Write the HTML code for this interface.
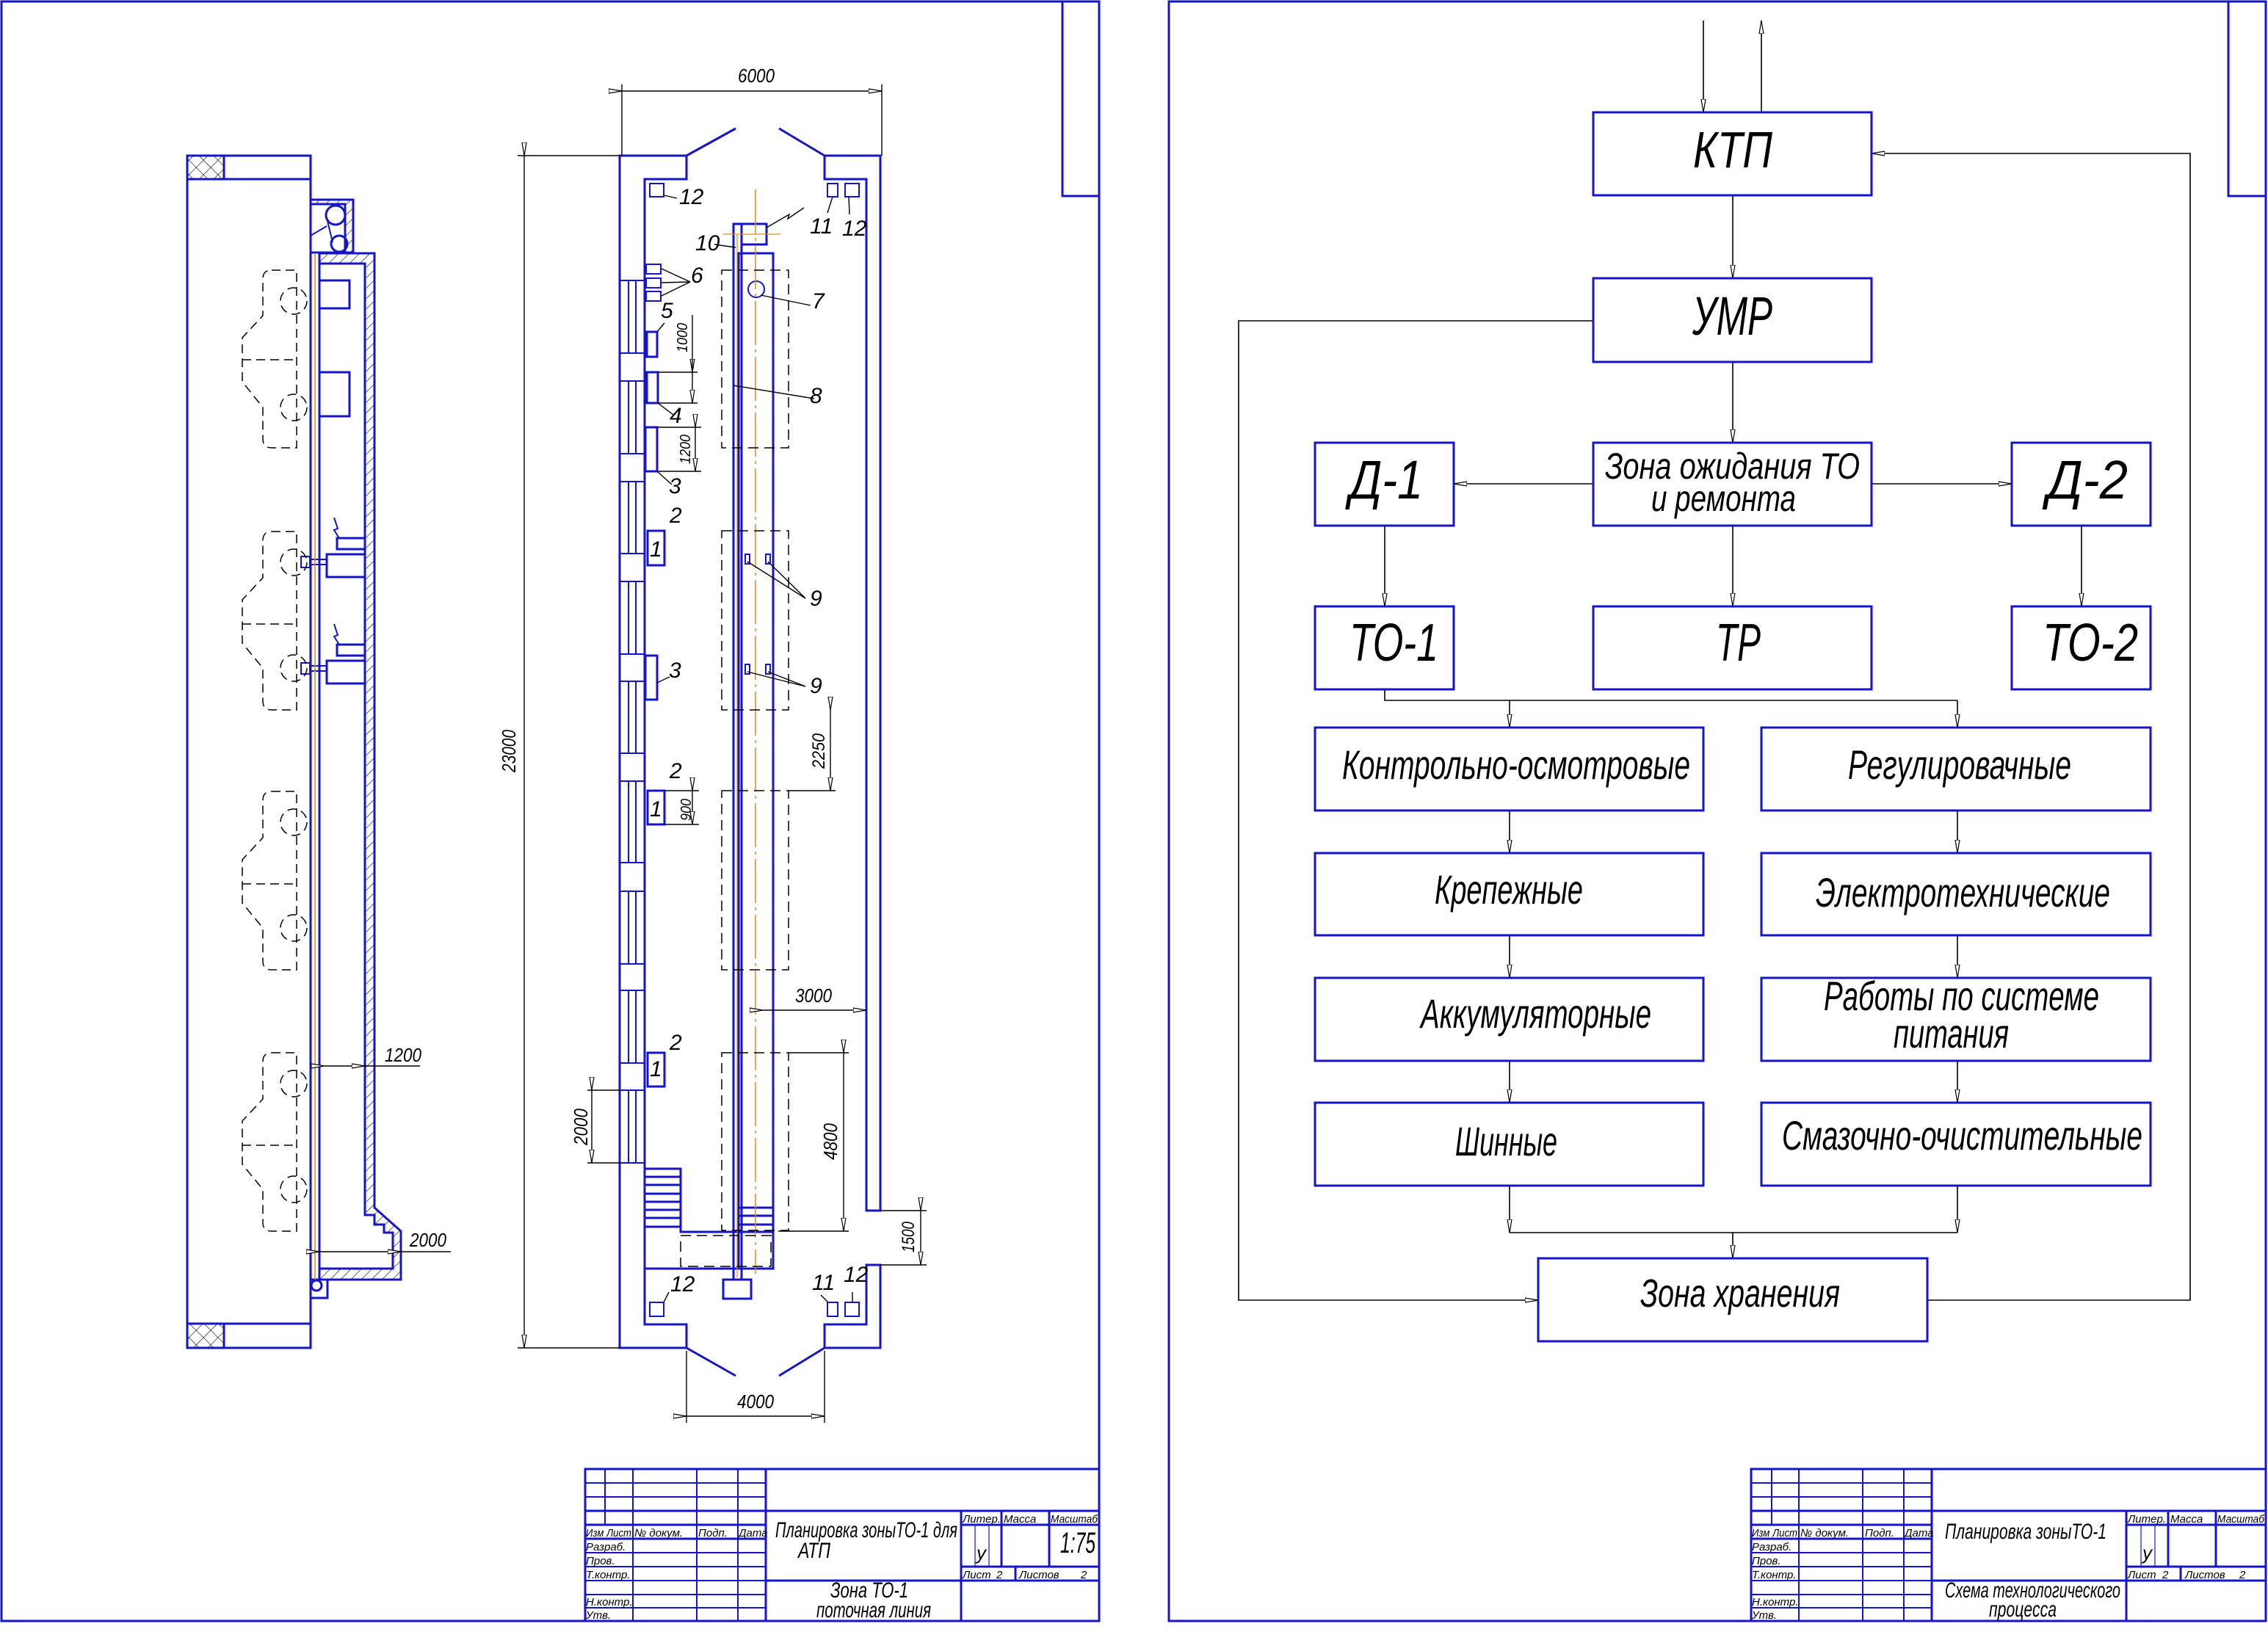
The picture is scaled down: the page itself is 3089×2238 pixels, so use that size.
<!DOCTYPE html>
<html><head><meta charset="utf-8"><style>
html,body{margin:0;padding:0;background:#fff}
svg{display:block}
text{font-family:"Liberation Sans","DejaVu Sans",sans-serif;font-style:italic;fill:#000}
</style></head><body>
<svg width="3089" height="2238" viewBox="0 0 3089 2238" xmlns="http://www.w3.org/2000/svg">
<defs>
<marker id="ar" markerWidth="20" markerHeight="10" refX="18" refY="4" orient="auto" markerUnits="userSpaceOnUse">
<path d="M0,1 L18,4 L0,7 Z" fill="#fff" stroke="#000" stroke-width="1.2"/>
</marker>
<pattern id="hat" width="10" height="10" patternUnits="userSpaceOnUse" patternTransform="rotate(45)">
<line x1="0" y1="0" x2="0" y2="10" stroke="#000" stroke-width="1.2"/>
</pattern>
<pattern id="xh" width="14" height="14" patternUnits="userSpaceOnUse" patternTransform="rotate(45)">
<line x1="0" y1="0" x2="0" y2="14" stroke="#000" stroke-width="1.2"/>
<line x1="0" y1="0" x2="14" y2="0" stroke="#000" stroke-width="1.2"/>
</pattern>
</defs>
<rect width="3089" height="2238" fill="#fff"/>

<g fill="none" stroke="#1414c8" stroke-width="3">
<rect x="2" y="2" width="1495" height="2206"/>
<polyline points="1447,2 1447,267 1497,267"/>
<rect x="1592" y="2" width="1494" height="2206"/>
<polyline points="3035,2 3035,267 3086,267"/>
</g>

<g fill="none" stroke="#000" stroke-width="1.6">
<line x1="2320" y1="28" x2="2320" y2="153" marker-end="url(#ar)"/>
<line x1="2399" y1="153" x2="2399" y2="28" marker-end="url(#ar)"/>
<line x1="2360" y1="266" x2="2360" y2="379" marker-end="url(#ar)"/>
<line x1="2360" y1="493" x2="2360" y2="603" marker-end="url(#ar)"/>
<line x1="2170" y1="659" x2="1980" y2="659" marker-end="url(#ar)"/>
<line x1="2549" y1="659" x2="2740" y2="659" marker-end="url(#ar)"/>
<line x1="1886" y1="716" x2="1886" y2="826" marker-end="url(#ar)"/>
<line x1="2360" y1="716" x2="2360" y2="826" marker-end="url(#ar)"/>
<line x1="2835" y1="716" x2="2835" y2="826" marker-end="url(#ar)"/>
<polyline points="1886,939 1886,954 2666,954"/>
<line x1="2056" y1="954" x2="2056" y2="991" marker-end="url(#ar)"/>
<line x1="2666" y1="954" x2="2666" y2="991" marker-end="url(#ar)"/>
<line x1="2056" y1="1104" x2="2056" y2="1162" marker-end="url(#ar)"/>
<line x1="2666" y1="1104" x2="2666" y2="1162" marker-end="url(#ar)"/>
<line x1="2056" y1="1274" x2="2056" y2="1332" marker-end="url(#ar)"/>
<line x1="2666" y1="1274" x2="2666" y2="1332" marker-end="url(#ar)"/>
<line x1="2056" y1="1445" x2="2056" y2="1502" marker-end="url(#ar)"/>
<line x1="2666" y1="1445" x2="2666" y2="1502" marker-end="url(#ar)"/>
<line x1="2056" y1="1615" x2="2056" y2="1679" marker-end="url(#ar)"/>
<line x1="2666" y1="1615" x2="2666" y2="1679" marker-end="url(#ar)"/>
<line x1="2056" y1="1679" x2="2666" y2="1679"/>
<line x1="2360" y1="1679" x2="2360" y2="1714" marker-end="url(#ar)"/>
<polyline points="2170,437 1687,437 1687,1771 2095,1771" marker-end="url(#ar)"/>
<polyline points="2625,1771 2983,1771 2983,209 2549,209" marker-end="url(#ar)"/>
</g>
<g fill="none" stroke="#1414c8" stroke-width="3">
<rect x="2170" y="153" width="379" height="113"/>
<rect x="2170" y="379" width="379" height="114"/>
<rect x="1791" y="603" width="189" height="113"/>
<rect x="2170" y="603" width="379" height="113"/>
<rect x="2740" y="603" width="189" height="113"/>
<rect x="1791" y="826" width="189" height="113"/>
<rect x="2170" y="826" width="379" height="113"/>
<rect x="2740" y="826" width="189" height="113"/>
<rect x="1791" y="991" width="529" height="113"/>
<rect x="2399" y="991" width="530" height="113"/>
<rect x="1791" y="1162" width="529" height="112"/>
<rect x="2399" y="1162" width="530" height="112"/>
<rect x="1791" y="1332" width="529" height="113"/>
<rect x="2399" y="1332" width="530" height="113"/>
<rect x="1791" y="1502" width="529" height="113"/>
<rect x="2399" y="1502" width="530" height="113"/>
<rect x="2095" y="1714" width="530" height="113"/>
</g>
<g>
<text x="2306" y="228" font-size="70" textLength="108" lengthAdjust="spacingAndGlyphs">КТП</text>
<text x="2305" y="456" font-size="74" textLength="109" lengthAdjust="spacingAndGlyphs">УМР</text>
<text x="1838" y="679" font-size="74" textLength="100" lengthAdjust="spacingAndGlyphs">Д-1</text>
<text x="2788" y="679" font-size="74" textLength="110" lengthAdjust="spacingAndGlyphs">Д-2</text>
<text x="2186" y="652" font-size="50" textLength="347" lengthAdjust="spacingAndGlyphs">Зона ожидания ТО</text>
<text x="2249" y="696" font-size="50" textLength="197" lengthAdjust="spacingAndGlyphs">и ремонта</text>
<text x="1838" y="900" font-size="72" textLength="121" lengthAdjust="spacingAndGlyphs">ТО-1</text>
<text x="2337" y="900" font-size="72" textLength="61" lengthAdjust="spacingAndGlyphs">ТР</text>
<text x="2782" y="900" font-size="72" textLength="130" lengthAdjust="spacingAndGlyphs">ТО-2</text>
<text x="1828" y="1061" font-size="56" textLength="474" lengthAdjust="spacingAndGlyphs">Контрольно-осмотровые</text>
<text x="2517" y="1061" font-size="56" textLength="304" lengthAdjust="spacingAndGlyphs">Регулировачные</text>
<text x="1954" y="1231" font-size="56" textLength="202" lengthAdjust="spacingAndGlyphs">Крепежные</text>
<text x="2473" y="1235" font-size="56" textLength="401" lengthAdjust="spacingAndGlyphs">Электротехнические</text>
<text x="1935" y="1400" font-size="56" textLength="314" lengthAdjust="spacingAndGlyphs">Аккумуляторные</text>
<text x="2484" y="1376" font-size="56" textLength="375" lengthAdjust="spacingAndGlyphs">Работы по системе</text>
<text x="2579" y="1427" font-size="56" textLength="157" lengthAdjust="spacingAndGlyphs">питания</text>
<text x="1982" y="1574" font-size="56" textLength="139" lengthAdjust="spacingAndGlyphs">Шинные</text>
<text x="2427" y="1566" font-size="56" textLength="491" lengthAdjust="spacingAndGlyphs">Смазочно-очистительные</text>
<text x="2234" y="1780" font-size="54" textLength="272" lengthAdjust="spacingAndGlyphs">Зона хранения</text>
</g>

<g fill="none" stroke="#1414c8" stroke-width="2">
<rect x="2385" y="2001" width="701" height="207" stroke-width="3"/>
<line x1="2413" y1="2001" x2="2413" y2="2077"/>
<line x1="2450" y1="2001" x2="2450" y2="2208"/>
<line x1="2537" y1="2001" x2="2537" y2="2208"/>
<line x1="2593" y1="2001" x2="2593" y2="2208"/>
<line x1="2631" y1="2001" x2="2631" y2="2208" stroke-width="3"/>
<line x1="2385" y1="2020" x2="2631" y2="2020"/>
<line x1="2385" y1="2039" x2="2631" y2="2039"/>
<line x1="2385" y1="2058" x2="3086" y2="2058" stroke-width="3"/>
<line x1="2385" y1="2077" x2="2631" y2="2077" stroke-width="3"/>
<line x1="2385" y1="2096" x2="2631" y2="2096" stroke-width="3"/>
<line x1="2385" y1="2115" x2="2631" y2="2115"/>
<line x1="2385" y1="2134" x2="2631" y2="2134"/>
<line x1="2385" y1="2153" x2="2631" y2="2153"/>
<line x1="2385" y1="2172" x2="2631" y2="2172"/>
<line x1="2385" y1="2190" x2="2631" y2="2190"/>
<line x1="2631" y1="2153" x2="3086" y2="2153" stroke-width="3"/>
<line x1="2896" y1="2058" x2="2896" y2="2208" stroke-width="3"/>
<line x1="2896" y1="2077" x2="3086" y2="2077" stroke-width="3"/>
<line x1="2896" y1="2134" x2="3086" y2="2134" stroke-width="3"/>
<line x1="2916" y1="2077" x2="2916" y2="2134" stroke-width="1.2"/>
<line x1="2935" y1="2077" x2="2935" y2="2134" stroke-width="1.2"/>
<line x1="2953" y1="2058" x2="2953" y2="2134" stroke-width="3"/>
<line x1="3018" y1="2058" x2="3018" y2="2134" stroke-width="3"/>
<line x1="2970" y1="2134" x2="2970" y2="2153" stroke-width="3"/>
</g>
<g font-size="15">
<text x="2386" y="2093" textLength="62" lengthAdjust="spacingAndGlyphs">Изм Лист</text>
<text x="2452" y="2093">№ докум.</text>
<text x="2540" y="2093">Подп.</text>
<text x="2594" y="2093">Дата</text>
<text x="2386" y="2112">Разраб.</text>
<text x="2386" y="2131">Пров.</text>
<text x="2386" y="2150">Т.контр.</text>
<text x="2386" y="2187">Н.контр.</text>
<text x="2386" y="2205">Утв.</text>
<text x="2898" y="2074">Литер.</text>
<text x="2956" y="2074">Масса</text>
<text x="3020" y="2074" textLength="64" lengthAdjust="spacingAndGlyphs">Масштаб</text>
<text x="2898" y="2150">Лист</text>
<text x="2945" y="2150">2</text>
<text x="2976" y="2150">Листов</text>
<text x="3050" y="2150">2</text>
<text x="2918" y="2124" font-size="26">у</text>
<text x="2649" y="2096" font-size="30" textLength="220" lengthAdjust="spacingAndGlyphs">Планировка зоныТО-1</text>
<text x="2649" y="2176" font-size="30" textLength="239" lengthAdjust="spacingAndGlyphs">Схема технологического</text>
<text x="2709" y="2202" font-size="30" textLength="92" lengthAdjust="spacingAndGlyphs">процесса</text>
</g>

<g fill="none" stroke="#1414c8" stroke-width="2">
<rect x="797" y="2001" width="700" height="207" stroke-width="3"/>
<line x1="824" y1="2001" x2="824" y2="2077"/>
<line x1="862" y1="2001" x2="862" y2="2208"/>
<line x1="949" y1="2001" x2="949" y2="2208"/>
<line x1="1005" y1="2001" x2="1005" y2="2208"/>
<line x1="1043" y1="2001" x2="1043" y2="2208" stroke-width="3"/>
<line x1="797" y1="2020" x2="1043" y2="2020"/>
<line x1="797" y1="2039" x2="1043" y2="2039"/>
<line x1="797" y1="2058" x2="1497" y2="2058" stroke-width="3"/>
<line x1="797" y1="2077" x2="1043" y2="2077" stroke-width="3"/>
<line x1="797" y1="2096" x2="1043" y2="2096" stroke-width="3"/>
<line x1="797" y1="2115" x2="1043" y2="2115"/>
<line x1="797" y1="2134" x2="1043" y2="2134"/>
<line x1="797" y1="2153" x2="1043" y2="2153"/>
<line x1="797" y1="2172" x2="1043" y2="2172"/>
<line x1="797" y1="2190" x2="1043" y2="2190"/>
<line x1="1043" y1="2153" x2="1497" y2="2153" stroke-width="3"/>
<line x1="1309" y1="2058" x2="1309" y2="2208" stroke-width="3"/>
<line x1="1309" y1="2077" x2="1497" y2="2077" stroke-width="3"/>
<line x1="1309" y1="2134" x2="1497" y2="2134" stroke-width="3"/>
<line x1="1328" y1="2077" x2="1328" y2="2134" stroke-width="1.2"/>
<line x1="1347" y1="2077" x2="1347" y2="2134" stroke-width="1.2"/>
<line x1="1364" y1="2058" x2="1364" y2="2134" stroke-width="3"/>
<line x1="1429" y1="2058" x2="1429" y2="2134" stroke-width="3"/>
<line x1="1383" y1="2134" x2="1383" y2="2153" stroke-width="3"/>
</g>
<g font-size="15">
<text x="798" y="2093" textLength="62" lengthAdjust="spacingAndGlyphs">Изм Лист</text>
<text x="864" y="2093">№ докум.</text>
<text x="951" y="2093">Подп.</text>
<text x="1006" y="2093">Дата</text>
<text x="798" y="2112">Разраб.</text>
<text x="798" y="2131">Пров.</text>
<text x="798" y="2150">Т.контр.</text>
<text x="798" y="2187">Н.контр.</text>
<text x="798" y="2205">Утв.</text>
<text x="1311" y="2074">Литер.</text>
<text x="1367" y="2074">Масса</text>
<text x="1431" y="2074" textLength="64" lengthAdjust="spacingAndGlyphs">Масштаб</text>
<text x="1311" y="2150">Лист</text>
<text x="1357" y="2150">2</text>
<text x="1388" y="2150">Листов</text>
<text x="1472" y="2150">2</text>
<text x="1330" y="2124" font-size="26">у</text>
<text x="1444" y="2115" font-size="40" textLength="48" lengthAdjust="spacingAndGlyphs">1:75</text>
<text x="1056" y="2094" font-size="30" textLength="248" lengthAdjust="spacingAndGlyphs">Планировка зоныТО-1 для</text>
<text x="1087" y="2122" font-size="30" textLength="44" lengthAdjust="spacingAndGlyphs">АТП</text>
<text x="1131" y="2176" font-size="30" textLength="106" lengthAdjust="spacingAndGlyphs">Зона ТО-1</text>
<text x="1112" y="2203" font-size="30" textLength="156" lengthAdjust="spacingAndGlyphs">поточная линия</text>
</g>

<g fill="none" stroke="#1414c8" stroke-width="3">
<rect x="255" y="212" width="168" height="1624"/>
<line x1="255" y1="244" x2="423" y2="244"/>
<line x1="255" y1="1803" x2="423" y2="1803"/>
<rect x="255" y="212" width="50" height="32" fill="url(#xh)"/>
<rect x="255" y="1803" width="50" height="33" fill="url(#xh)"/>
<line x1="435" y1="345" x2="435" y2="1728"/>
<path d="M423,272 H481 V344 H470 V278 H423 Z" fill="url(#hat)"/>
<rect x="423" y="272" width="58" height="72"/>
<circle cx="457" cy="293" r="13"/>
<circle cx="462" cy="332" r="11"/>
<line x1="445" y1="297" x2="453" y2="330" stroke-width="2"/>
<line x1="423" y1="321" x2="445" y2="308" stroke-width="2"/>
<path d="M435,345 H510 V1645 L546,1677 V1743 H435 V1728 H535 V1679 H523 V1668 H510 V1655 H497 V359 H435 Z" fill="url(#hat)"/>
<rect x="423" y="1743" width="23" height="25"/>
<circle cx="431" cy="1751" r="7"/>
<path d="M435,382 H476 V420 H435"/>
<path d="M435,507 H476 V567 H435"/>
<rect x="445" y="755" width="52" height="31"/>
<rect x="459" y="733" width="38" height="15"/>
<rect x="410" y="758" width="12" height="15" stroke-width="2"/>
<line x1="422" y1="762" x2="445" y2="762" stroke-width="2"/>
<line x1="422" y1="769" x2="445" y2="769" stroke-width="2"/>
<rect x="445" y="900" width="52" height="31"/>
<rect x="459" y="878" width="38" height="15"/>
<rect x="410" y="903" width="12" height="15" stroke-width="2"/>
<line x1="422" y1="907" x2="445" y2="907" stroke-width="2"/>
<line x1="422" y1="914" x2="445" y2="914" stroke-width="2"/>
<path d="M455,705 L460,720 L455,722 L462,733" stroke-width="2"/>
<path d="M455,850 L460,865 L455,867 L462,878" stroke-width="2"/>
</g>
<line x1="429" y1="345" x2="429" y2="1743" stroke="#e08a20" stroke-width="1.5"/>
<g fill="none" stroke="#000" stroke-width="1.5" stroke-dasharray="12,7">
<path d="M370,368 H404 V610 H370 Q358,610 358,598 V555 L330,520 V460 L358,430 V380 Q358,368 370,368 Z"/>
<line x1="330" y1="490" x2="404" y2="490"/>
<circle cx="400" cy="410" r="18"/><circle cx="400" cy="555" r="18"/>
<path d="M370,724 H404 V967 H370 Q358,967 358,955 V910 L330,876 V817 L358,787 V736 Q358,724 370,724 Z"/>
<line x1="330" y1="850" x2="404" y2="850"/>
<circle cx="400" cy="766" r="18"/><circle cx="400" cy="910" r="18"/>
<path d="M370,1078 H404 V1321 H370 Q358,1321 358,1309 V1264 L330,1230 V1171 L358,1141 V1090 Q358,1078 370,1078 Z"/>
<line x1="330" y1="1204" x2="404" y2="1204"/>
<circle cx="400" cy="1120" r="18"/><circle cx="400" cy="1264" r="18"/>
<path d="M370,1434 H404 V1677 H370 Q358,1677 358,1665 V1620 L330,1586 V1527 L358,1497 V1446 Q358,1434 370,1434 Z"/>
<line x1="330" y1="1560" x2="404" y2="1560"/>
<circle cx="400" cy="1476" r="18"/><circle cx="400" cy="1620" r="18"/>
</g>
<g fill="none" stroke="#000" stroke-width="1.4">
<line x1="442" y1="1452" x2="497" y2="1452" marker-start="url(#ar)" marker-end="url(#ar)"/>
<line x1="497" y1="1452" x2="572" y2="1452"/>
<line x1="435" y1="1705" x2="546" y2="1705" marker-start="url(#ar)" marker-end="url(#ar)"/>
<line x1="546" y1="1705" x2="614" y2="1705"/>
</g>
<text x="524" y="1446" font-size="26" textLength="50" lengthAdjust="spacingAndGlyphs">1200</text>
<text x="558" y="1698" font-size="26" textLength="50" lengthAdjust="spacingAndGlyphs">2000</text>

<g fill="none" stroke="#1414c8" stroke-width="3">
<path d="M935,212 H844 V1836 H935 V1804 H878 V244 H935 Z"/>
<path d="M1123,212 H1199 V1649 H1180 V244 H1123 Z"/>
<path d="M1123,1836 H1199 V1723 H1180 V1804 H1123 Z"/>
<line x1="935" y1="212" x2="1002" y2="175"/>
<line x1="1123" y1="212" x2="1061" y2="175"/>
<line x1="935" y1="1836" x2="1002" y2="1874"/>
<line x1="1123" y1="1836" x2="1061" y2="1874"/>
<rect x="999" y="305" width="11" height="1438"/>
<rect x="1006" y="345" width="47" height="1383"/>
<rect x="1010" y="305" width="34" height="28"/>
<rect x="985" y="1743" width="38" height="26"/>
<line x1="1006" y1="1645" x2="1053" y2="1645"/>
<line x1="1006" y1="1656" x2="1053" y2="1656"/>
<line x1="1006" y1="1668" x2="1053" y2="1668"/>
<path d="M878,1592 H927 V1678 H1053"/>
<line x1="878" y1="1603" x2="927" y2="1603"/><line x1="878" y1="1614" x2="927" y2="1614"/>
<line x1="878" y1="1626" x2="927" y2="1626"/><line x1="878" y1="1637" x2="927" y2="1637"/>
<line x1="878" y1="1648" x2="927" y2="1648"/><line x1="878" y1="1659" x2="927" y2="1659"/>
<line x1="878" y1="1671" x2="927" y2="1671"/>
<line x1="878" y1="1728" x2="1053" y2="1728"/>
<rect x="880" y="360" width="20" height="13" stroke-width="2"/>
<rect x="880" y="379" width="20" height="13" stroke-width="2"/>
<rect x="880" y="397" width="20" height="13" stroke-width="2"/>
<rect x="881" y="452" width="14" height="34"/>
<rect x="881" y="507" width="15" height="42"/>
<rect x="879" y="582" width="16" height="60"/>
<rect x="882" y="723" width="23" height="47"/>
<rect x="879" y="893" width="16" height="60"/>
<rect x="882" y="1077" width="23" height="46"/>
<rect x="882" y="1434" width="23" height="46"/>
<circle cx="1030" cy="394" r="11" stroke-width="2"/>
<rect x="1015" y="755" width="6" height="13" stroke-width="2"/>
<rect x="1043" y="755" width="6" height="13" stroke-width="2"/>
<rect x="1015" y="905" width="6" height="13" stroke-width="2"/>
<rect x="1043" y="905" width="6" height="13" stroke-width="2"/>
<rect x="885" y="1774" width="19" height="19" stroke-width="2"/>
<rect x="1127" y="1774" width="14" height="19" stroke-width="2"/>
<rect x="1151" y="1774" width="19" height="19" stroke-width="2"/>
<rect x="885" y="250" width="19" height="18" stroke-width="2"/>
<rect x="1127" y="250" width="14" height="18" stroke-width="2"/>
<rect x="1151" y="250" width="19" height="18" stroke-width="2"/>
</g>
<g fill="none" stroke="#1414c8" stroke-width="2">
<rect x="844" y="382" width="34" height="99"/><line x1="856" y1="382" x2="856" y2="481"/><line x1="866" y1="382" x2="866" y2="481"/>
<rect x="844" y="519" width="34" height="99"/><line x1="856" y1="519" x2="856" y2="618"/><line x1="866" y1="519" x2="866" y2="618"/>
<rect x="844" y="656" width="34" height="98"/><line x1="856" y1="656" x2="856" y2="754"/><line x1="866" y1="656" x2="866" y2="754"/>
<rect x="844" y="792" width="34" height="99"/><line x1="856" y1="792" x2="856" y2="891"/><line x1="866" y1="792" x2="866" y2="891"/>
<rect x="844" y="928" width="34" height="98"/><line x1="856" y1="928" x2="856" y2="1026"/><line x1="866" y1="928" x2="866" y2="1026"/>
<rect x="844" y="1064" width="34" height="111"/><line x1="856" y1="1064" x2="856" y2="1175"/><line x1="866" y1="1064" x2="866" y2="1175"/>
<rect x="844" y="1214" width="34" height="99"/><line x1="856" y1="1214" x2="856" y2="1313"/><line x1="866" y1="1214" x2="866" y2="1313"/>
<rect x="844" y="1349" width="34" height="99"/><line x1="856" y1="1349" x2="856" y2="1448"/><line x1="866" y1="1349" x2="866" y2="1448"/>
<rect x="844" y="1485" width="34" height="99"/><line x1="856" y1="1485" x2="856" y2="1584"/><line x1="866" y1="1485" x2="866" y2="1584"/>
</g>
<line x1="1029" y1="258" x2="1029" y2="1735" stroke="#e08a20" stroke-width="1.5" stroke-dasharray="60,6,4,6"/>
<line x1="1004" y1="320" x2="1004" y2="1740" stroke="#e08a20" stroke-width="1.2"/>
<line x1="985" y1="319" x2="1063" y2="319" stroke="#e08a20" stroke-width="1.2"/>
<g fill="none" stroke="#000" stroke-width="1.5" stroke-dasharray="14,8">
<rect x="983" y="368" width="91" height="242"/>
<rect x="983" y="723" width="91" height="244"/>
<rect x="983" y="1077" width="91" height="244"/>
<rect x="983" y="1434" width="91" height="242"/>
<rect x="927" y="1683" width="123" height="42"/>
</g>
<g fill="none" stroke="#000" stroke-width="1.4">
<line x1="847" y1="124" x2="1201" y2="124" marker-start="url(#ar)" marker-end="url(#ar)"/>
<line x1="847" y1="115" x2="847" y2="212"/><line x1="1201" y1="115" x2="1201" y2="212"/>
<line x1="714" y1="212" x2="714" y2="1836" marker-start="url(#ar)" marker-end="url(#ar)"/>
<line x1="705" y1="212" x2="844" y2="212"/><line x1="705" y1="1836" x2="844" y2="1836"/>
<line x1="935" y1="1929" x2="1123" y2="1929" marker-start="url(#ar)" marker-end="url(#ar)"/>
<line x1="935" y1="1840" x2="935" y2="1938"/><line x1="1123" y1="1840" x2="1123" y2="1938"/>
<line x1="1039" y1="1376" x2="1180" y2="1376" marker-start="url(#ar)" marker-end="url(#ar)"/>
<line x1="1149" y1="1434" x2="1149" y2="1677" marker-start="url(#ar)" marker-end="url(#ar)"/>
<line x1="1074" y1="1434" x2="1156" y2="1434"/><line x1="1060" y1="1677" x2="1156" y2="1677"/>
<line x1="806" y1="1485" x2="806" y2="1584" marker-start="url(#ar)" marker-end="url(#ar)"/>
<line x1="800" y1="1485" x2="844" y2="1485"/><line x1="800" y1="1584" x2="844" y2="1584"/>
<line x1="1254" y1="1649" x2="1254" y2="1723" marker-start="url(#ar)" marker-end="url(#ar)"/>
<line x1="1199" y1="1649" x2="1262" y2="1649"/><line x1="1199" y1="1723" x2="1262" y2="1723"/>
<line x1="1131" y1="967" x2="1131" y2="1077" marker-start="url(#ar)" marker-end="url(#ar)"/>
<line x1="1074" y1="1077" x2="1138" y2="1077"/>
<line x1="943" y1="507" x2="943" y2="549" marker-start="url(#ar)" marker-end="url(#ar)"/>
<line x1="896" y1="507" x2="950" y2="507"/><line x1="896" y1="549" x2="950" y2="549"/>
<line x1="943" y1="429" x2="943" y2="507"/>
<line x1="947" y1="582" x2="947" y2="642" marker-start="url(#ar)" marker-end="url(#ar)"/>
<line x1="895" y1="582" x2="955" y2="582"/><line x1="895" y1="642" x2="955" y2="642"/>
<line x1="943" y1="1077" x2="943" y2="1123" marker-start="url(#ar)" marker-end="url(#ar)"/>
<line x1="905" y1="1077" x2="952" y2="1077"/><line x1="905" y1="1123" x2="952" y2="1123"/>
<line x1="904" y1="266" x2="922" y2="270"/>
<line x1="1134" y1="268" x2="1127" y2="290"/>
<line x1="1156" y1="268" x2="1157" y2="292"/>
<line x1="973" y1="333" x2="1002" y2="337"/>
<line x1="901" y1="366" x2="940" y2="384"/><line x1="901" y1="385" x2="940" y2="384"/><line x1="901" y1="403" x2="940" y2="384"/>
<line x1="1036" y1="402" x2="1104" y2="416"/>
<line x1="999" y1="525" x2="1109" y2="543"/>
<line x1="896" y1="549" x2="917" y2="565"/>
<line x1="895" y1="642" x2="915" y2="660"/>
<line x1="1018" y1="765" x2="1097" y2="815"/><line x1="1046" y1="765" x2="1097" y2="815"/>
<line x1="1018" y1="915" x2="1097" y2="935"/><line x1="1046" y1="915" x2="1097" y2="935"/>
<line x1="895" y1="930" x2="912" y2="922"/>
<line x1="895" y1="452" x2="905" y2="440"/>
<line x1="904" y1="1774" x2="911" y2="1760"/>
<line x1="1127" y1="1773" x2="1118" y2="1764"/>
<line x1="1161" y1="1773" x2="1161" y2="1760"/>
<path d="M1044,310 L1075,292 L1073,298 L1095,283"/>
</g>
<g font-size="30">
<text x="1005" y="112" font-size="26" textLength="50" lengthAdjust="spacingAndGlyphs">6000</text>
<text x="1004" y="1918" font-size="26" textLength="50" lengthAdjust="spacingAndGlyphs">4000</text>
<text x="1083" y="1365" font-size="26" textLength="50" lengthAdjust="spacingAndGlyphs">3000</text>
<text transform="translate(702,1052) rotate(-90)" font-size="26" textLength="58" lengthAdjust="spacingAndGlyphs">23000</text>
<text transform="translate(1140,1580) rotate(-90)" font-size="26" textLength="50" lengthAdjust="spacingAndGlyphs">4800</text>
<text transform="translate(800,1560) rotate(-90)" font-size="26" textLength="50" lengthAdjust="spacingAndGlyphs">2000</text>
<text transform="translate(1245,1706) rotate(-90)" font-size="24" textLength="42" lengthAdjust="spacingAndGlyphs">1500</text>
<text transform="translate(1123,1047) rotate(-90)" font-size="24" textLength="48" lengthAdjust="spacingAndGlyphs">2250</text>
<text transform="translate(936,480) rotate(-90)" font-size="20" textLength="40" lengthAdjust="spacingAndGlyphs">1000</text>
<text transform="translate(940,632) rotate(-90)" font-size="20" textLength="40" lengthAdjust="spacingAndGlyphs">1200</text>
<text transform="translate(941,1118) rotate(-90)" font-size="20" textLength="30" lengthAdjust="spacingAndGlyphs">900</text>
<text x="925" y="278">12</text>
<text x="1103" y="318">11</text>
<text x="1147" y="321">12</text>
<text x="947" y="341">10</text>
<text x="941" y="385">6</text>
<text x="1106" y="420">7</text>
<text x="900" y="433">5</text>
<text x="1103" y="549">8</text>
<text x="912" y="576">4</text>
<text x="911" y="672">3</text>
<text x="912" y="712">2</text>
<text x="885" y="758">1</text>
<text x="1103" y="825">9</text>
<text x="911" y="923">3</text>
<text x="1103" y="944">9</text>
<text x="912" y="1060">2</text>
<text x="885" y="1112">1</text>
<text x="912" y="1430">2</text>
<text x="885" y="1466">1</text>
<text x="913" y="1759">12</text>
<text x="1106" y="1757">11</text>
<text x="1149" y="1746">12</text>
</g>
</svg>
</body></html>
